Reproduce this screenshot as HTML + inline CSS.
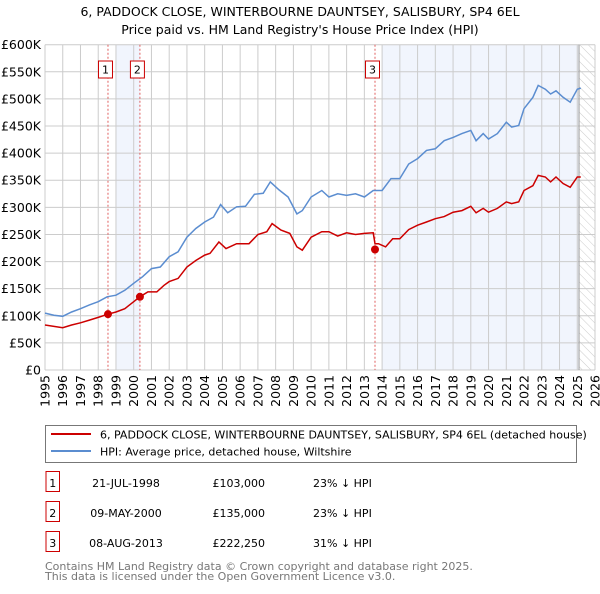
<!DOCTYPE html>
<html><head><meta charset="utf-8"><style>
body{margin:0;background:#fff;width:600px;height:590px;overflow:hidden;font-family:"DejaVu Sans","Liberation Sans",sans-serif;}
svg text{font-family:"DejaVu Sans","Liberation Sans",sans-serif;}
</style></head><body>
<svg id="c" width="600" height="590" xmlns="http://www.w3.org/2000/svg">
<defs><pattern id="hatch" width="6" height="6" patternUnits="userSpaceOnUse" patternTransform="rotate(-45)"><line x1="0" y1="0" x2="0" y2="6" stroke="#ccc" stroke-width="1"/></pattern></defs>
<text x="300" y="16" text-anchor="middle" font-size="12.5" fill="#000">6, PADDOCK CLOSE, WINTERBOURNE DAUNTSEY, SALISBURY, SP4 6EL</text>
<text x="300" y="34" text-anchor="middle" font-size="12.5" fill="#000">Price paid vs. HM Land Registry's House Price Index (HPI)</text>
<g id="plot"></g>
<rect x="45.5" y="425.5" width="531" height="37" fill="#fff" stroke="#777"/>
<line x1="51" y1="434" x2="91" y2="434" stroke="#cc0000" stroke-width="2"/>
<text x="100" y="438.5" font-size="11">6, PADDOCK CLOSE, WINTERBOURNE DAUNTSEY, SALISBURY, SP4 6EL (detached house)</text>
<line x1="51" y1="451" x2="91" y2="451" stroke="#5b8dd0" stroke-width="2"/>
<text x="100" y="455.5" font-size="11">HPI: Average price, detached house, Wiltshire</text>
<g id="table" font-size="11"></g>
<text x="45" y="570" font-size="11" fill="#777">Contains HM Land Registry data © Crown copyright and database right 2025.</text>
<text x="45" y="580" font-size="11" fill="#777">This data is licensed under the Open Government Licence v3.0.</text>
</svg>
<script>
const hpiYears=[1995,1995.5,1996,1996.5,1997,1997.5,1998,1998.5,1999,1999.5,2000,2000.5,2001,2001.5,2002,2002.5,2003,2003.5,2004,2004.5,2004.9,2005.3,2005.8,2006.3,2006.8,2007.3,2007.7,2008.2,2008.7,2009.2,2009.5,2010,2010.6,2011,2011.5,2012,2012.5,2013,2013.5,2014,2014.5,2015,2015.5,2016,2016.5,2017,2017.5,2018,2018.5,2019,2019.3,2019.7,2020,2020.5,2021,2021.3,2021.7,2022,2022.5,2022.8,2023.2,2023.5,2023.8,2024.2,2024.6,2025,2025.2];
const hpiValues=[105,101,99,107,113,120,126,135,138,147,160,172,187,190,209,218,245,261,273,282,305,290,301,302,324,326,347,332,319,288,294,319,331,319,325,322,325,319,331,331,353,353,380,390,405,408,423,429,436,442,423,436,426,436,457,448,451,482,503,525,518,509,515,503,494,518,520];
const priceYears=[1995,1996,1996.5,1997,1997.5,1998,1998.55,1999,1999.5,2000,2000.35,2000.8,2001.3,2001.7,2002,2002.5,2003,2003.5,2004,2004.3,2004.8,2005.2,2005.8,2006.5,2007,2007.5,2007.8,2008.3,2008.8,2009.2,2009.5,2010,2010.6,2011,2011.5,2012,2012.5,2013,2013.5,2013.6,2013.8,2014.2,2014.6,2015,2015.5,2016,2016.5,2017,2017.5,2018,2018.5,2019,2019.3,2019.7,2020,2020.5,2021,2021.3,2021.7,2022,2022.5,2022.8,2023.2,2023.5,2023.8,2024.2,2024.6,2025,2025.2];
const priceValues=[83,78,83,87,92,97,103,107,113,126,135,144,144,156,163,169,190,202,212,215,236,224,233,233,250,255,270,258,252,227,221,245,255,255,247,253,250,252,253,233,233,227,242,242,259,267,273,279,283,291,294,302,290,298,291,298,310,307,310,331,340,359,356,347,356,344,337,356,356];
const saleYears=[1998.55,2000.35,2013.6];
const saleValues=[103,135,222.25];
const saleLabels=["1","2","3"];
const saleDates=["21-JUL-1998","09-MAY-2000","08-AUG-2013"];
const salePrices=["£103,000","£135,000","£222,250"];
const saleDiffs=["23% ↓ HPI","23% ↓ HPI","31% ↓ HPI"];
const yTicks=[0,50,100,150,200,250,300,350,400,450,500,550,600];
const yTickLabels=["£0","£50K","£100K","£150K","£200K","£250K","£300K","£350K","£400K","£450K","£500K","£550K","£600K"];
const xTicks=[1995,1996,1997,1998,1999,2000,2001,2002,2003,2004,2005,2006,2007,2008,2009,2010,2011,2012,2013,2014,2015,2016,2017,2018,2019,2020,2021,2022,2023,2024,2025,2026];

const L=45,R=595,T=44.7,B=370;
const X=y=>L+(y-1995)/(2026-1995)*(R-L);
const Y=v=>B-v/600*(B-T);
const NS="http://www.w3.org/2000/svg";
const plot=document.getElementById('plot');
function mk(tag,attrs,parent){const e=document.createElementNS(NS,tag);for(const k in attrs)e.setAttribute(k,attrs[k]);(parent||plot).appendChild(e);return e;}

let e;
e=mk('rect',{x:X(1999),y:T,width:X(2000.35)-X(1999),height:B-T,fill:'#eef3fc',opacity:0.8});


e=mk('rect',{x:X(2014),y:T,width:X(2025.1)-X(2014),height:B-T,fill:'#eef3fc',opacity:0.8});


e=mk('rect',{x:X(2025.1),y:T,width:R-X(2025.1),height:B-T,fill:'url(#hatch)'});



yTicks.forEach((v,i)=>{
  e=mk('line',{x1:L,x2:R,y1:Y(v),y2:Y(v),stroke:'#ccc','stroke-width':1});
  
  
  e=mk('text',{x:L-4,y:Y(v)+4.5,'text-anchor':'end','font-size':12.5});
  e.textContent=yTickLabels[i];
  
  
});
xTicks.forEach(t=>{
  e=mk('line',{x1:X(t),x2:X(t),y1:T,y2:B,stroke:'#ccc','stroke-width':1});
  
  
  e=mk('text',{x:0,y:0,'text-anchor':'end','font-size':12.5,transform:`translate(${X(t)+4.5},${B+5}) rotate(-90)`});
  e.textContent=t;
  
  
});
e=mk('line',{x1:X(2025.1),x2:X(2025.1),y1:T,y2:B,stroke:'#999','stroke-width':1});



saleYears.forEach((s,i)=>{
  e=mk('line',{x1:X(s),x2:X(s),y1:T,y2:B,stroke:'#e06060','stroke-width':1,'stroke-dasharray':'2,2'});
  
  
});

function path(xs,vs){return xs.map((x,i)=>(i?'L':'M')+X(x).toFixed(1)+','+Y(vs[i]).toFixed(1)).join('');}
e=mk('path',{d:path(hpiYears,hpiValues),fill:'none',stroke:'#5b8dd0','stroke-width':1.5});


e=mk('path',{d:path(priceYears,priceValues),fill:'none',stroke:'#cc0000','stroke-width':1.5});



saleYears.forEach((s,i)=>{
  e=mk('circle',{cx:X(s),cy:Y(saleValues[i]),r:4,fill:'#cc0000'});
  
  
  e=mk('rect',{x:X(s)-16.5,y:61,width:14,height:17,fill:'#fff',stroke:'#cc0000'});
  if(i<2){e.setAttribute('x',X(s)-9.5+(i==0?0:0));}
  e.setAttribute('x',X(s)-(i==2?9.5:9.5)+(i==0?-0:0)-(i==1?-0:0));
  
  
  e=mk('text',{x:X(s)-2.5,y:73.5,'text-anchor':'middle','font-size':11});
  e.textContent=saleLabels[i];
  
  
});

const tbl=document.getElementById('table');
const rowY=[483,513,543];
saleLabels.forEach((lab,i)=>{
  const y=rowY[i];
  e=mk('rect',{x:46,y:y-11.5,width:13.5,height:20,fill:'#fff',stroke:'#cc0000'},tbl);
  
  
  e=mk('text',{x:52.8,y:y+4,'text-anchor':'middle'},tbl);
  e.textContent=lab;
  
  
  e=mk('text',{x:126,y:y+4,'text-anchor':'middle'},tbl);
  e.textContent=saleDates[i];
  
  
  e=mk('text',{x:265,y:y+4,'text-anchor':'end'},tbl);
  e.textContent=salePrices[i];
  
  
  e=mk('text',{x:313,y:y+4},tbl);
  e.textContent=saleDiffs[i];
  
  
});
</script>
</body></html>
